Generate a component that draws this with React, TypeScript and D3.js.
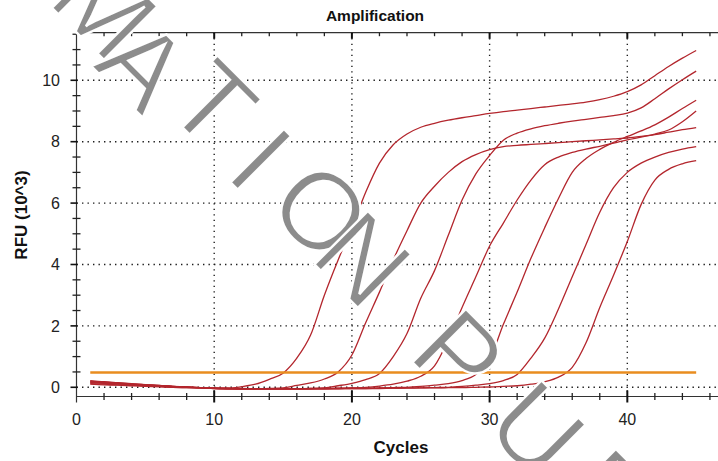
import React from "react";
import * as d3 from "d3";

// Cycle numbers (x categories)
const cycles = [
  1, 2, 3, 4, 5, 6, 7, 8, 9, 10, 11, 12, 13, 14, 15, 16, 17, 18, 19, 20, 21, 22, 23,
  24, 25, 26, 27, 28, 29, 30, 31, 32, 33, 34, 35, 36, 37, 38, 39, 40, 41, 42, 43, 44, 45,
];

// RFU (10^3) per cycle for each well
const well1 = [
  0.22, 0.18, 0.15, 0.12, 0.09, 0.06, 0.03, 0.01, -0.01, -0.03,
  -0.03, 0.02, 0.1, 0.26, 0.46, 0.95, 1.7, 3.0, 4.15, 5.2,
  6.35, 7.3, 7.9, 8.25, 8.47, 8.6, 8.7, 8.78, 8.85, 8.92,
  8.98, 9.03, 9.08, 9.13, 9.18, 9.23, 9.29, 9.37, 9.48, 9.63,
  9.85, 10.15, 10.45, 10.72, 10.97,
];
const well2 = [
  0.18, 0.15, 0.12, 0.1, 0.07, 0.05, 0.02, 0.0, -0.02, -0.04,
  -0.05, -0.05, -0.05, -0.04, -0.02, 0.06, 0.14, 0.27, 0.5, 1.05,
  2.1, 3.1, 4.15, 5.1, 6.0, 6.55, 7.0, 7.35, 7.58, 7.74,
  7.84, 7.88, 7.91, 7.94, 7.97, 8.0, 8.03, 8.06, 8.09, 8.12,
  8.17, 8.23, 8.31, 8.39, 8.46,
];
const well3 = [
  0.15, 0.13, 0.11, 0.09, 0.07, 0.05, 0.03, 0.01, -0.01, -0.03,
  -0.04, -0.05, -0.05, -0.05, -0.05, -0.05, -0.04, -0.02, 0.05, 0.13,
  0.25, 0.45, 1.0, 1.75, 2.9, 3.8, 4.95, 6.1, 6.95, 7.55,
  8.05, 8.28, 8.42, 8.52, 8.6, 8.67, 8.73, 8.79, 8.85, 8.93,
  9.1, 9.4, 9.72, 10.02, 10.3,
];
const well4 = [
  0.2, 0.17, 0.14, 0.11, 0.08, 0.06, 0.03, 0.01, -0.01, -0.03,
  -0.04, -0.05, -0.05, -0.05, -0.05, -0.05, -0.04, -0.04, -0.03, -0.02,
  0.0, 0.04, 0.1, 0.2, 0.36, 0.7, 1.55, 2.6, 3.6, 4.6,
  5.35, 6.1, 6.75, 7.25, 7.5, 7.65, 7.76, 7.85, 7.95, 8.06,
  8.15, 8.25, 8.38, 8.65, 9.0,
];
const well5 = [
  0.12, 0.1, 0.08, 0.06, 0.04, 0.02, 0.0, -0.01, -0.02, -0.04,
  -0.05, -0.05, -0.05, -0.05, -0.05, -0.05, -0.05, -0.04, -0.04, -0.03,
  -0.03, -0.02, -0.01, 0.0, 0.03, 0.07, 0.12, 0.22, 0.42, 0.9,
  2.05, 3.1, 4.2, 5.2, 6.15, 7.0, 7.45, 7.75, 7.98, 8.17,
  8.35, 8.55, 8.8, 9.08, 9.35,
];
const well6 = [
  0.17, 0.14, 0.12, 0.09, 0.07, 0.04, 0.02, 0.0, -0.02, -0.03,
  -0.04, -0.05, -0.05, -0.05, -0.05, -0.05, -0.05, -0.05, -0.04, -0.04,
  -0.04, -0.03, -0.03, -0.02, -0.02, -0.01, 0.0, 0.03, 0.07, 0.12,
  0.22, 0.42, 0.95, 1.6, 2.55, 3.6, 4.65, 5.7, 6.5, 7.0,
  7.3, 7.5, 7.65, 7.76, 7.84,
];
const well7 = [
  0.1, 0.08, 0.07, 0.05, 0.03, 0.02, 0.0, -0.01, -0.02, -0.03,
  -0.04, -0.04, -0.05, -0.05, -0.05, -0.05, -0.05, -0.05, -0.05, -0.04,
  -0.04, -0.04, -0.03, -0.03, -0.02, -0.02, -0.01, -0.01, 0.0, 0.01,
  0.03, 0.05, 0.1, 0.18, 0.33, 0.65, 1.45, 2.6, 3.65, 4.75,
  5.95, 6.75, 7.1, 7.28, 7.38,
];
const wells = [well1, well2, well3, well4, well5, well6, well7];

const threshold = 0.48;
const thresholdRange = [1, 45];

const xTicks = [0, 10, 20, 30, 40];
const xMinorTicks = [2, 4, 6, 8, 12, 14, 16, 18, 22, 24, 26, 28, 32, 34, 36, 38, 42, 44, 46];
const yTicks = [0, 2, 4, 6, 8, 10];
const yMinorTicks = [0.5, 1, 1.5, 2.5, 3, 3.5, 4.5, 5, 5.5, 6.5, 7, 7.5, 8.5, 9, 9.5, 10.5, 11, 11.5];

const title = "Amplification";
const xTitle = "Cycles";
const yTitle = "RFU (10^3)";
// watermark letters ("…MATION PUB…") and their centres in the picture
const watermarkLetters = ["M", "A", "T", "I", "O", "N", "P", "U", "B"];
const watermarkCentres = [
  [106, 6],
  [145, 64],
  [214, 103],
  [262, 158],
  [322, 210],
  [364, 258],
  [460, 354],
  [538, 428],
  [610, 494],
];

const W = 718;
const H = 461;

export default function App() {
  const x = d3.scaleLinear().domain([0, 46.6]).range([76.5, 718.2]);
  const y = d3.scaleLinear().domain([-0.3, 11.55]).range([396.5, 32.7]);
  const left = x(0);
  const right = W;
  const top = y(11.55);
  const bottom = y(-0.3);

  const line = d3
    .line<number>()
    .x((_, i) => x(cycles[i]))
    .y((d) => y(d))
    .curve(d3.curveMonotoneX);

  const font = "'Liberation Sans', Arial, sans-serif";
  const gridStyle = {
    stroke: "#1e1e1e",
    strokeWidth: 1.4,
    strokeDasharray: "1.4 4.1",
  };

  return (
    <svg
      width={W}
      height={H}
      style={{ position: "absolute", left: 0, top: 0, background: "#fff" }}
      fontFamily={font}
    >
      <rect x={0} y={0} width={W} height={H} fill="#fff" />

      {/* grid */}
      {yTicks.map((t) => (
        <line key={"gy" + t} x1={left} x2={right} y1={y(t)} y2={y(t)} style={gridStyle} />
      ))}
      {xTicks
        .filter((t) => t > 0)
        .map((t) => (
          <line key={"gx" + t} x1={x(t)} x2={x(t)} y1={top} y2={bottom} style={gridStyle} />
        ))}

      {/* curves */}
      {wells.map((w, i) => (
        <path
          key={"w" + i}
          d={line(w) || ""}
          fill="none"
          stroke="#b3262d"
          strokeWidth={1.3}
        />
      ))}

      {/* threshold */}
      <line
        x1={x(thresholdRange[0])}
        x2={x(thresholdRange[1])}
        y1={y(threshold)}
        y2={y(threshold)}
        stroke="#e98d1f"
        strokeWidth={2.6}
      />

      {/* axes */}
      <line x1={left} x2={right} y1={top} y2={top} stroke="#333" strokeWidth={1.2} />
      <line x1={left} x2={right} y1={bottom} y2={bottom} stroke="#333" strokeWidth={1.2} />
      <line x1={left} x2={left} y1={top} y2={bottom + 6} stroke="#333" strokeWidth={1.2} />

      {/* x ticks bottom */}
      {xMinorTicks.map((t) => (
        <line key={"xm" + t} x1={x(t)} x2={x(t)} y1={bottom - 3.5} y2={bottom + 3.5} stroke="#222" strokeWidth={1.3} />
      ))}
      {xTicks
        .filter((t) => t > 0)
        .map((t) => (
          <line key={"xM" + t} x1={x(t)} x2={x(t)} y1={bottom - 6} y2={bottom + 6} stroke="#111" strokeWidth={2} />
        ))}
      {/* x ticks top */}
      {xMinorTicks.map((t) => (
        <line key={"txm" + t} x1={x(t)} x2={x(t)} y1={top} y2={top + 3.5} stroke="#222" strokeWidth={1.3} />
      ))}
      {xTicks
        .filter((t) => t > 0)
        .map((t) => (
          <line key={"txM" + t} x1={x(t)} x2={x(t)} y1={top} y2={top + 6} stroke="#111" strokeWidth={2} />
        ))}

      {/* y ticks */}
      {yMinorTicks.map((t) => (
        <line key={"ym" + t} x1={left - 4} x2={left + 4} y1={y(t)} y2={y(t)} stroke="#222" strokeWidth={1.3} />
      ))}
      {yTicks.map((t) => (
        <line key={"yM" + t} x1={left - 6} x2={left + 1} y1={y(t)} y2={y(t)} stroke="#111" strokeWidth={1.6} />
      ))}

      {/* tick labels */}
      {xTicks.map((t) => (
        <text key={"xl" + t} x={x(t)} y={425} textAnchor="middle" fontSize={16} fill="#222">
          {t}
        </text>
      ))}
      {yTicks.map((t) => (
        <text key={"yl" + t} x={60} y={y(t)} dy="0.36em" textAnchor="end" fontSize={16} fill="#222">
          {t}
        </text>
      ))}

      {/* titles */}
      <text x={375} y={21} textAnchor="middle" fontSize={15.5} fontWeight="bold" fill="#111">
        {title}
      </text>
      <text x={401} y={453} textAnchor="middle" fontSize={17} fontWeight="bold" fill="#111">
        {xTitle}
      </text>
      <text
        transform="translate(26.5,215) rotate(-90)"
        textAnchor="middle"
        fontSize={17}
        fontWeight="bold"
        fill="#111"
      >
        {yTitle}
      </text>

      {/* watermark */}
      <g fill="#8c8c8c" stroke="#ffffff" strokeWidth={2.4}>
        {watermarkLetters.map((ch, i) => (
          <text
            key={"wm" + i}
            transform={`translate(${watermarkCentres[i][0]},${watermarkCentres[i][1]}) rotate(45)`}
            textAnchor="middle"
            dy="0.36em"
            fontSize={110}
            fontFamily={font}
          >
            {ch}
          </text>
        ))}
      </g>
    </svg>
  );
}
